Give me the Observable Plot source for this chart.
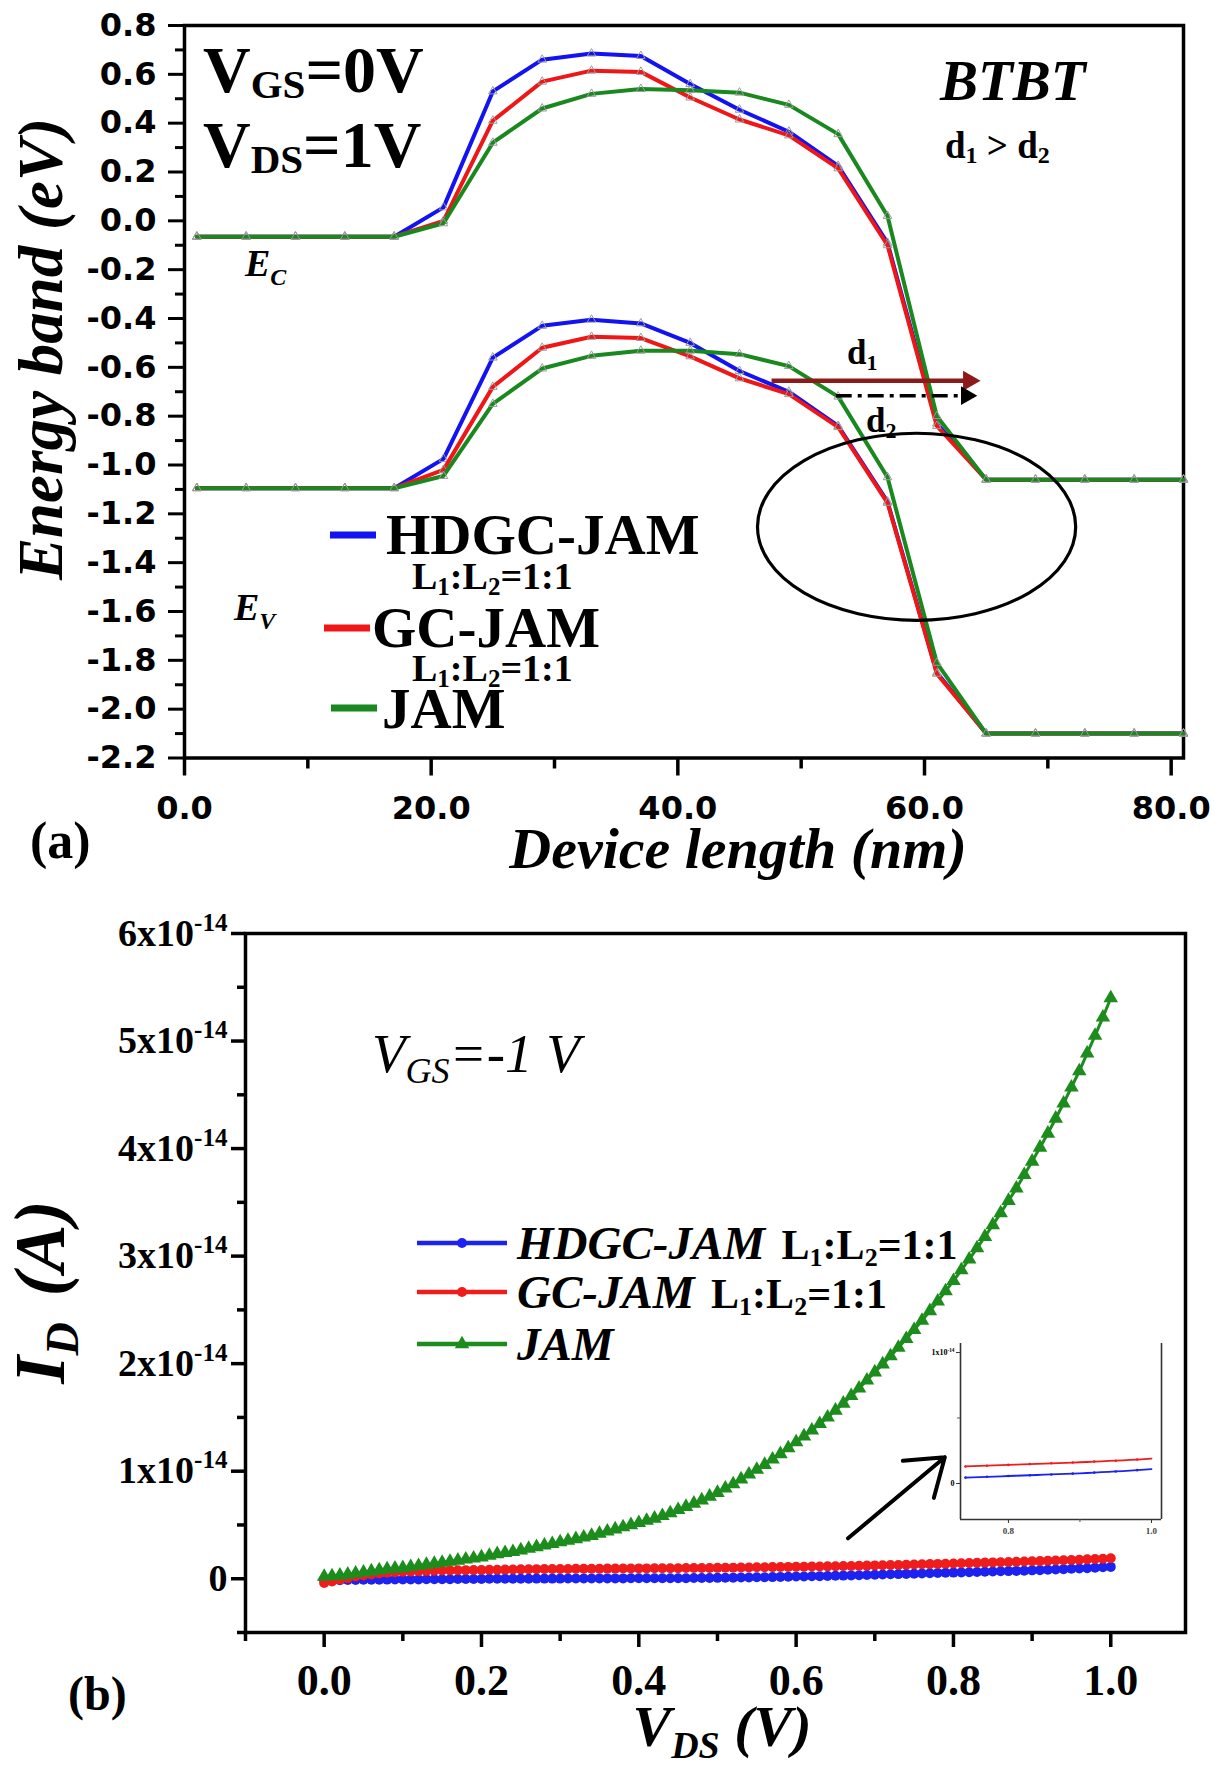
<!DOCTYPE html>
<html>
<head>
<meta charset="utf-8">
<script src="https://cdn.jsdelivr.net/npm/d3@7"></script>
<script src="https://cdn.jsdelivr.net/npm/@observablehq/plot@0.6"></script>
<style>
html,body{margin:0;padding:0;background:#fff;}
#root{position:relative;width:1214px;height:1769px;overflow:hidden;background:#fff;}
#root > svg{display:block;}
#inset{position:absolute;left:920px;top:1323px;}
</style>
</head>
<body>
<div id="root"></div>
<script>
// ---------------- Panel (a): energy bands ----------------
const xNm = [1,5,9,13,17,21,25,29,33,37,41,45,49,53,57,61,65,69,73,77,81];
const ecHDGC = [-0.065,-0.065,-0.065,-0.065,-0.065,0.055,0.53,0.66,0.685,0.675,0.56,0.455,0.365,0.225,-0.09,-0.83,-1.06,-1.06,-1.06,-1.06,-1.06];
const ecGC   = [-0.065,-0.065,-0.065,-0.065,-0.065,0.0,0.41,0.57,0.615,0.61,0.505,0.415,0.35,0.215,-0.10,-0.84,-1.06,-1.06,-1.06,-1.06,-1.06];
const ecJAM  = [-0.065,-0.065,-0.065,-0.065,-0.065,-0.01,0.32,0.46,0.52,0.54,0.535,0.525,0.475,0.355,0.02,-0.80,-1.06,-1.06,-1.06,-1.06,-1.06];
const evHDGC = [-1.095,-1.095,-1.095,-1.095,-1.095,-0.975,-0.56,-0.43,-0.405,-0.42,-0.50,-0.615,-0.70,-0.84,-1.15,-1.85,-2.10,-2.10,-2.10,-2.10,-2.10];
const evGC   = [-1.095,-1.095,-1.095,-1.095,-1.095,-1.02,-0.68,-0.52,-0.475,-0.48,-0.555,-0.645,-0.71,-0.845,-1.155,-1.855,-2.10,-2.10,-2.10,-2.10,-2.10];
const evJAM  = [-1.095,-1.095,-1.095,-1.095,-1.095,-1.045,-0.75,-0.605,-0.553,-0.532,-0.532,-0.546,-0.595,-0.72,-1.05,-1.81,-2.10,-2.10,-2.10,-2.10,-2.10];
const seriesA = ["HDGC-JAM", "GC-JAM", "JAM"];
const colorsA = ["#1212f2", "#ee1616", "#19881f"];
const yMajorA = [-2.2,-2.0,-1.8,-1.6,-1.4,-1.2,-1.0,-0.8,-0.6,-0.4,-0.2,0.0,0.2,0.4,0.6,0.8];
const yMinorA = [-2.1,-1.9,-1.7,-1.5,-1.3,-1.1,-0.9,-0.7,-0.5,-0.3,-0.1,0.1,0.3,0.5,0.7];
const xMajorA = [0,20,40,60,80];
const xMinorA = [10,30,50,70];
// annotations (data units)
const ellipseA = [59.4, -1.255, 12.9, 0.383];      // cx, cy, rx, ry
const arrowD1 = [47.6, -0.655, 63.2, -0.655];
const headD1 = [63.6, -0.655];
const arrowD2 = [52.8, -0.716, 63.0, -0.716];
const headD2 = [63.4, -0.716];

// ---------------- Panel (b): ID - VDS ----------------
const vds = [0,0.01,0.02,0.03,0.04,0.05,0.06,0.07,0.08,0.09,0.1,0.11,0.12,0.13,0.14,0.15,0.16,0.17,0.18,0.19,0.2,0.21,0.22,0.23,0.24,0.25,0.26,0.27,0.28,0.29,0.3,0.31,0.32,0.33,0.34,0.35,0.36,0.37,0.38,0.39,0.4,0.41,0.42,0.43,0.44,0.45,0.46,0.47,0.48,0.49,0.5,0.51,0.52,0.53,0.54,0.55,0.56,0.57,0.58,0.59,0.6,0.61,0.62,0.63,0.64,0.65,0.66,0.67,0.68,0.69,0.7,0.71,0.72,0.73,0.74,0.75,0.76,0.77,0.78,0.79,0.8,0.81,0.82,0.83,0.84,0.85,0.86,0.87,0.88,0.89,0.9,0.91,0.92,0.93,0.94,0.95,0.96,0.97,0.98,0.99,1.0];
// currents in units of 1e-14 A
const idHDGC = [-0.015,-0.014,-0.013,-0.012,-0.011,-0.01,-0.009,-0.009,-0.008,-0.007,-0.007,-0.006,-0.006,-0.005,-0.005,-0.004,-0.004,-0.003,-0.003,-0.002,-0.002,-0.001,-0.001,0,0,0,0,0.001,0.001,0.001,0.001,0.002,0.002,0.002,0.002,0.003,0.003,0.003,0.003,0.004,0.004,0.004,0.004,0.005,0.005,0.005,0.005,0.006,0.006,0.007,0.008,0.009,0.01,0.011,0.012,0.013,0.014,0.015,0.017,0.018,0.02,0.021,0.023,0.024,0.026,0.027,0.029,0.031,0.033,0.035,0.037,0.039,0.041,0.043,0.045,0.047,0.049,0.051,0.053,0.055,0.057,0.059,0.061,0.063,0.065,0.067,0.069,0.071,0.073,0.075,0.078,0.08,0.083,0.086,0.089,0.092,0.095,0.098,0.102,0.106,0.11];
const idGC = [-0.04,-0.025,-0.01,0.005,0.02,0.03,0.04,0.048,0.055,0.06,0.065,0.068,0.07,0.073,0.075,0.077,0.078,0.079,0.08,0.081,0.082,0.083,0.084,0.085,0.086,0.087,0.088,0.089,0.09,0.09,0.091,0.091,0.092,0.092,0.093,0.093,0.094,0.094,0.095,0.095,0.096,0.096,0.097,0.097,0.098,0.098,0.099,0.099,0.1,0.1,0.101,0.102,0.103,0.104,0.105,0.106,0.107,0.108,0.109,0.11,0.111,0.112,0.113,0.114,0.115,0.116,0.118,0.119,0.121,0.122,0.124,0.125,0.127,0.128,0.13,0.132,0.134,0.136,0.138,0.14,0.142,0.144,0.146,0.148,0.15,0.152,0.154,0.156,0.158,0.16,0.162,0.164,0.167,0.169,0.172,0.174,0.177,0.18,0.183,0.186,0.19];
const idJAM = [0.02,0.025,0.03,0.04,0.05,0.06,0.07,0.08,0.09,0.095,0.1,0.11,0.12,0.13,0.14,0.15,0.16,0.17,0.18,0.19,0.2,0.215,0.23,0.24,0.25,0.265,0.28,0.295,0.31,0.325,0.34,0.355,0.37,0.385,0.4,0.42,0.44,0.46,0.48,0.5,0.52,0.54,0.56,0.585,0.61,0.64,0.67,0.7,0.73,0.765,0.8,0.84,0.88,0.925,0.97,1.015,1.06,1.11,1.16,1.215,1.27,1.325,1.38,1.44,1.5,1.565,1.63,1.7,1.77,1.845,1.92,1.995,2.07,2.15,2.23,2.315,2.4,2.49,2.58,2.675,2.77,2.87,2.97,3.075,3.18,3.29,3.4,3.515,3.63,3.755,3.88,4.01,4.14,4.28,4.42,4.57,4.72,4.885,5.05,5.22,5.4];
const seriesB = ["HDGC-JAM", "GC-JAM", "JAM"];
const colorsB = ["#1c22f0", "#f01c1c", "#1c8c1c"];
const yMajorB = [0,1,2,3,4,5,6];
const yMinorB = [-0.5,0.5,1.5,2.5,3.5,4.5,5.5];
const xMajorB = [0,0.2,0.4,0.6,0.8,1.0];
const xMinorB = [-0.1,0.1,0.3,0.5,0.7,0.9];
const arrowB = [0.666, 0.376, 0.789, 1.13];
const insetX = [0.733, 1.014];
const insetY = [-0.275, 1.069];

// ---------------- helpers ----------------
function txt(svg, x, y, parts, o = {}) {
  const t = d3.select(svg).append("text")
    .attr("x", x).attr("y", y)
    .attr("font-family", o.family || "Liberation Serif")
    .attr("font-size", o.size || 30)
    .attr("font-weight", o.weight || "bold")
    .attr("font-style", o.style || "normal")
    .attr("text-anchor", o.anchor || "start")
    .attr("fill", "black");
  if (o.rotate) t.attr("transform", `rotate(${o.rotate} ${x} ${y})`);
  let cur = 0;
  for (const p of parts) {
    const [s, size, off = 0, style, dx] = Array.isArray(p) ? p : [p];
    const ts = t.append("tspan").text(s);
    if (size) ts.attr("font-size", size);
    if (style) ts.attr("font-style", style);
    if (dx) ts.attr("dx", dx);
    if (off !== cur) { ts.attr("dy", off - cur); cur = off; }
  }
  return t;
}
const root = document.getElementById("root");

// ---------------- build panel (a) ----------------
const ecA = [ecHDGC, ecGC, ecJAM], evA = [evHDGC, evGC, evJAM];
const rowsA = [];
seriesA.forEach((s, k) => {
  xNm.forEach((x, j) => rowsA.push({x, y: ecA[k][j], series: s, key: s + " Ec"}));
  xNm.forEach((x, j) => rowsA.push({x, y: evA[k][j], series: s, key: s + " Ev"}));
});
const HA = 880;
const marksA = [
  Plot.axisY(yMajorA, {tickSize: 16, tickPadding: 12, tickFormat: d => d.toFixed(1), fontSize: 32, fontWeight: "bold", fontFamily: "DejaVu Sans", strokeWidth: 3, label: null}),
  Plot.axisY(yMinorA, {tickSize: 9, tickFormat: () => "", strokeWidth: 3, label: null}),
  Plot.axisX(xMajorA, {tickSize: 18, tickPadding: 20, tickFormat: d => d.toFixed(1), fontSize: 32, fontWeight: "bold", fontFamily: "DejaVu Sans", strokeWidth: 3.5, label: null}),
  Plot.axisX(xMinorA, {tickSize: 11, tickFormat: () => "", strokeWidth: 3.5, label: null}),
  Plot.frame({stroke: "black", strokeWidth: 3.5})
];
seriesA.forEach((s, k) => {
  const rows = rowsA.filter(d => d.series === s);
  marksA.push(Plot.line(rows, {x: "x", y: "y", z: "key", stroke: colorsA[k], strokeWidth: 4}));
  marksA.push(Plot.dot(rows, {x: "x", y: "y", symbol: "triangle", r: 3.2, fill: "none", stroke: "#9a9a9a", strokeWidth: 1}));
});
marksA.push(Plot.link([arrowD1], {x1: d => d[0], y1: d => d[1], x2: d => d[2], y2: d => d[3], stroke: "#8c1a1a", strokeWidth: 4.5}));
marksA.push(Plot.dot([headD1], {x: d => d[0], y: d => d[1], symbol: "triangle", rotate: 90, r: 7.5, fill: "#8c1a1a"}));
marksA.push(Plot.link([arrowD2], {x1: d => d[0], y1: d => d[1], x2: d => d[2], y2: d => d[3], stroke: "black", strokeWidth: 3.5, strokeDasharray: "16,6,4,6"}));
marksA.push(Plot.dot([headD2], {x: d => d[0], y: d => d[1], symbol: "triangle", rotate: 90, r: 7, fill: "black"}));

const plotA = Plot.plot({
  width: 1214, height: HA,
  marginLeft: 184, marginRight: 31, marginTop: 25, marginBottom: HA - 757.5,
  x: {domain: [0, 81], label: null},
  y: {domain: [-2.2, 0.8], label: null},
  style: {background: "white", overflow: "visible", fontFamily: "Liberation Serif"},
  marks: marksA
});
root.appendChild(plotA);
{
  const sx = plotA.scale("x"), sy = plotA.scale("y");
  const cx = sx.apply(ellipseA[0]), cy = sy.apply(ellipseA[1]);
  d3.select(plotA).append("ellipse")
    .attr("cx", cx).attr("cy", cy)
    .attr("rx", sx.apply(ellipseA[0] + ellipseA[2]) - cx)
    .attr("ry", sy.apply(ellipseA[1] - ellipseA[3]) - cy)
    .attr("fill", "none").attr("stroke", "black").attr("stroke-width", 3.2);
  // legend (a)
  const leg = [[330, 376, 535], [324, 370, 628], [331, 377, 708]];
  leg.forEach(([a, b, y], k) => d3.select(plotA).append("line")
    .attr("x1", a).attr("x2", b).attr("y1", y).attr("y2", y)
    .attr("stroke", colorsA[k]).attr("stroke-width", 7));
  txt(plotA, 386, 554, ["HDGC-JAM"], {size: 57});
  txt(plotA, 412, 589, ["L", ["1", 25, 6], [":", null, 0], "L", ["2", 25, 6], ["=1:1", null, 0]], {size: 38});
  txt(plotA, 372, 647, ["GC-JAM"], {size: 57});
  txt(plotA, 412, 681, ["L", ["1", 25, 6], [":", null, 0], "L", ["2", 25, 6], ["=1:1", null, 0]], {size: 38});
  txt(plotA, 382, 728, ["JAM"], {size: 57});
  // annotations
  txt(plotA, 203, 92, ["V", ["GS", 41, 6], ["=0V", null, 0]], {size: 66});
  txt(plotA, 203, 167, ["V", ["DS", 41, 6], ["=1V", null, 0]], {size: 66});
  txt(plotA, 940, 100, ["BTBT"], {size: 57, style: "italic"});
  txt(plotA, 945, 158, ["d", ["1", 24, 5], [" > d", null, 0], ["2", 24, 5]], {size: 37});
  txt(plotA, 847, 364, ["d", ["1", 22, 6]], {size: 35});
  txt(plotA, 866, 432, ["d", ["2", 22, 6]], {size: 35});
  txt(plotA, 245, 276, ["E", ["C", 24, 9]], {size: 38, style: "italic"});
  txt(plotA, 234, 620, ["E", ["V", 24, 9]], {size: 38, style: "italic"});
  // titles
  txt(plotA, 738, 868, ["Device length (nm)"], {size: 58, style: "italic", anchor: "middle"});
  txt(plotA, 62, 349, ["Energy band (eV)"], {size: 63, style: "italic", anchor: "middle", rotate: -90});
  txt(plotA, 30, 858, ["(a)"], {size: 52});
}

// ---------------- build panel (b) ----------------
const HB = 889;
const idB = [idHDGC, idGC, idJAM];
const rowsB = [];
seriesB.forEach((s, k) => vds.forEach((v, j) => rowsB.push({v, i: idB[k][j], series: s})));
const marksB = [
  Plot.axisY(yMajorB, {tickSize: 14, tickPadding: 4, tickFormat: d => d === 0 ? "0" : `${d}x10`, fontSize: 38, fontWeight: "bold", fontFamily: "Liberation Serif", strokeWidth: 3.5, label: null}),
  Plot.axisY(yMinorB, {tickSize: 8, tickFormat: () => "", strokeWidth: 3.5, label: null}),
  Plot.axisX(xMajorB, {tickSize: 15, tickPadding: 16, tickFormat: d => d.toFixed(1), fontSize: 44, fontWeight: "bold", fontFamily: "Liberation Serif", strokeWidth: 3.5, label: null}),
  Plot.axisX(xMinorB, {tickSize: 9, tickFormat: () => "", strokeWidth: 3.5, label: null}),
  Plot.frame({stroke: "black", strokeWidth: 3.5})
];
seriesB.forEach((s, k) => {
  const rows = rowsB.filter(d => d.series === s);
  marksB.push(Plot.line(rows, {x: "v", y: "i", stroke: colorsB[k], strokeWidth: 3}));
  marksB.push(Plot.dot(rows, {x: "v", y: "i", fill: colorsB[k], r: s === "JAM" ? 5.4 : 5, symbol: s === "JAM" ? "triangle" : "circle"}));
});
marksB.push(Plot.arrow([arrowB], {x1: d => d[0], y1: d => d[1], x2: d => d[2], y2: d => d[3], stroke: "black", strokeWidth: 4, headLength: 24, headAngle: 70}));

const plotB = Plot.plot({
  width: 1214, height: HB,
  marginLeft: 245, marginRight: 29, marginTop: 53, marginBottom: 137,
  x: {domain: [-0.1, 1.095], label: null},
  y: {domain: [-0.5, 6], label: null},
  style: {background: "white", overflow: "visible", fontFamily: "Liberation Serif"},
  marks: marksB
});
root.appendChild(plotB);
{
  d3.select(plotB).selectAll('g[aria-label="y-axis tick label"] text').each(function () {
    const s = this.textContent;
    if (s.endsWith("x10")) d3.select(this).append("tspan").attr("dy", "-0.6em").attr("font-size", "0.66em").text("-14");
  });
  // legend (b)
  const rowsY = [363, 412, 464];
  rowsY.forEach((y, k) => {
    d3.select(plotB).append("line").attr("x1", 417).attr("x2", 507).attr("y1", y).attr("y2", y)
      .attr("stroke", colorsB[k]).attr("stroke-width", 4.5);
    if (k < 2) d3.select(plotB).append("circle").attr("cx", 462).attr("cy", y).attr("r", 5).attr("fill", colorsB[k]);
    else d3.select(plotB).append("path").attr("d", d3.symbol(d3.symbolTriangle, 90)()).attr("transform", `translate(462,${y})`).attr("fill", colorsB[k]);
  });
  txt(plotB, 517, 379, [["HDGC-JAM", 47, 0, "italic"], [" L", 42, 0, "normal", 6], ["1", 26, 7], [":", null, 0], "L", ["2", 26, 7], ["=1:1", null, 0]], {size: 42});
  txt(plotB, 517, 428, [["GC-JAM", 47, 0, "italic"], [" L", 42, 0, "normal", 6], ["1", 26, 7], [":", null, 0], "L", ["2", 26, 7], ["=1:1", null, 0]], {size: 42});
  txt(plotB, 517, 480, [["JAM", 47, 0, "italic"]], {size: 42});
  txt(plotB, 372, 192, ["V", ["GS", 36, 11], ["=-1 V", null, 0]], {size: 55, style: "italic", weight: "normal"});
  // titles
  txt(plotB, 722, 866, ["V", ["DS", 38, 12], [" (V)", null, 0]], {size: 58, style: "italic", anchor: "middle"});
  txt(plotB, 64, 412, ["I", ["D", 46, 14], [" (A)", null, 0, null, 8]], {size: 72, style: "italic", anchor: "middle", rotate: -90});
  txt(plotB, 68, 830, ["(b)"], {size: 48});
}

// ---------------- inset ----------------
const insetRows = rowsB.filter(d => d.series !== "JAM" && d.v >= 0.74);
const plotI = Plot.plot({
  width: 260, height: 235,
  marginLeft: 40, marginRight: 19, marginTop: 20, marginBottom: 39,
  x: {domain: insetX, label: null},
  y: {domain: insetY, label: null},
  style: {background: "transparent", overflow: "visible", fontFamily: "Liberation Serif"},
  marks: [
    Plot.ruleX(insetX, {stroke: "#333", strokeWidth: 1.6}),
    Plot.ruleY([insetY[0]], {stroke: "#333", strokeWidth: 1.6}),
    Plot.axisY([0, 1], {tickSize: 4, tickPadding: 2, tickFormat: d => d === 0 ? "0" : "1x10", fontSize: 8, fontWeight: "bold", stroke: "#333", label: null}),
    Plot.axisY([0.5], {tickSize: 3, tickFormat: () => "", stroke: "#555", label: null}),
    Plot.axisX([0.8, 1.0], {tickSize: 4, tickPadding: 4, tickFormat: d => d.toFixed(1), fontSize: 9, fontWeight: "bold", stroke: "#333", fill: "#444", label: null}),
    Plot.axisX([0.9], {tickSize: 3, tickFormat: () => "", stroke: "#555", label: null}),
    Plot.line(insetRows, {x: "v", y: "i", z: "series", stroke: d => d.series === "GC-JAM" ? colorsB[1] : colorsB[0], strokeWidth: 1.8}),
    Plot.dot(insetRows.filter((d, j) => j % 3 === 0), {x: "v", y: "i", r: 1.3, fill: d => d.series === "GC-JAM" ? colorsB[1] : colorsB[0]})
  ]
});
plotI.id = "inset";
d3.select(plotI).selectAll('g[aria-label="y-axis tick label"] text').each(function () {
  if (this.textContent.endsWith("x10")) d3.select(this).append("tspan").attr("dy", "-0.6em").attr("font-size", "0.66em").text("-14");
});
root.appendChild(plotI);
</script>
</body>
</html>
